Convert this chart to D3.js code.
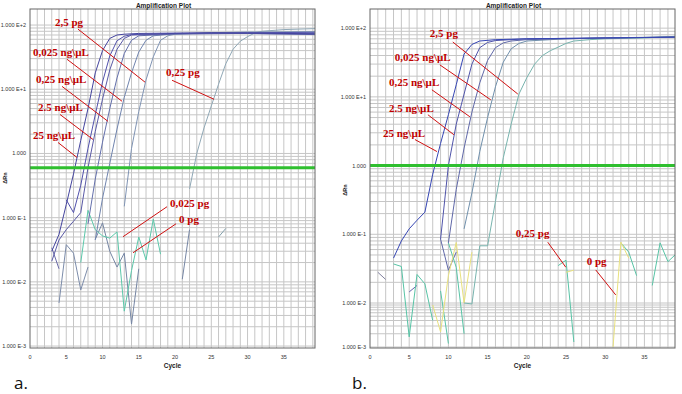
<!DOCTYPE html>
<html>
<head>
<meta charset="utf-8">
<script src="https://cdn.jsdelivr.net/npm/d3@7"></script>
<style>
  body { margin: 0; background: #fff; }
  svg { display: block; }
</style>
</head>
<body>
<div id="container"></div>
<script>
// ---------- panel a : [cycle, deltaRn] ----------
const a_25ng     = [[3,0.03],[4,0.055],[5,0.16],[6,0.48],[7,1.6],[8,5],[9,18],[10,40],[11,62],[12,70],[13,72],[15,74],[20,75],[25,76],[30,75],[35,74],[39.3,73]];
const a_rep      = [[5,0.19],[6,0.12],[7,0.32],[8,1.2],[9,4],[10,13],[11,33],[12,57],[13,67],[14,71],[20,74],[30,76],[39.3,77]];
const a_2_5ng    = [[3,0.021],[4,0.045],[5,0.065],[6,0.088],[7,0.12],[8,0.6],[9,2.2],[10,7],[11,20],[12,42],[13,62],[14,70],[20,73],[30,74],[39.3,72]];
const a_0_25ng   = [[8,0.08],[9,0.4],[10,1.5],[11,5],[12,15],[13,36],[14,58],[15,68],[20,73],[30,74],[39.3,71]];
const a_0_025ng  = [[9,0.045],[10,0.2],[11,0.7],[12,2.4],[13,7.5],[14,18],[15,38],[16,58],[17,68],[20,73],[30,75],[39.3,74]];
const a_2_5pg    = [[13,0.15],[14,1.2],[15,4.5],[16,14],[17,32],[18,58],[19,68],[20,72],[25,76],[30,78],[39.3,79]];
const a_0_25pg   = [[22,0.28],[23,1.0],[24,2.5],[25,5.5],[26,12],[27,25],[28,42],[29,56],[30,66],[31,75],[32,80],[35,85],[39.3,88]];
const a_0_025pg  = [[7,0.02],[8,0.13],[9,0.065],[10,0.052],[11,0.048],[12,0.06],[13,0.0035],[14,0.015],[15,0.05],[16,0.022],[17,0.095],[18,0.027]];
const a_0pg      = [[9,0.046],[10,0.083],[11,0.03],[12,0.017],[13,0.028],[14,0.0022],[15,0.016]];
const a_n1       = [[3,0.034],[4,0.016]];
const a_n2       = [[4,0.0047],[5,0.038],[6,0.028],[7,0.0075],[8,0.017]];
const a_n3       = [[21,0.011],[22,0.065]];
const a_n4       = [[26,0.05],[27,0.068]];

// ---------- panel b ----------
const b_25ng     = [[3,0.045],[4,0.08],[5,0.12],[6,0.16],[7,0.21],[8,0.75],[9,2.1],[10,5.5],[11,15],[12,42],[13,58],[14,65],[16,68],[20,70],[25,71],[30,72],[38.9,74]];
const b_2_5ng    = [[9,0.085],[10,1.0],[11,4],[12,11],[13,30],[14,52],[15,62],[16,66],[20,70],[30,72],[38.9,74]];
const b_0_25ng   = [[10,0.075],[11,0.45],[12,1.8],[13,6],[14,16],[15,34],[16,52],[17,61],[18,65],[20,68],[30,72],[38.9,74]];
const b_0_025ng  = [[12,0.12],[13,0.4],[14,1.6],[15,5],[16,14],[17,32],[18,50],[19,60],[20,65],[25,70],[30,72],[38.9,75]];
const b_2_5pg    = [[12,0.01],[13,0.0095],[14,0.068],[15,0.068],[16,0.3],[17,1.3],[18,4],[19,11],[20,19],[21,30],[22,40],[23,47],[24,53],[25,60],[26,65],[28,68],[30,70],[35,72],[38.9,76]];
const b_t1       = [[3,0.037],[4,0.034],[5,0.0017],[6,0.026],[7,0.019],[8,0.004]];
const b_t2       = [[9,0.015],[10,0.0012]];
const b_t3       = [[10,0.075],[11,0.033],[12,0.002]];
const b_0_25pg   = [[24,0.035],[25,0.042],[26,0.0013]];
const b_t5       = [[32,0.075],[33,0.055],[34,0.025]];
const b_t6       = [[36,0.018],[37,0.075],[38,0.04],[38.9,0.05]];
const b_y1       = [[8,0.009],[9,0.0022],[10,0.025],[11,0.076],[12,0.01],[13,0.055]];
const b_0pg      = [[31,0.001],[32,0.077],[33,0.045]];
const b_y3       = [[25,0.028],[26,0.03]];
const b_g1       = [[1,0.028],[2,0.022]];
const b_g2       = [[5,0.0145],[6,0.018]];
const b_g3       = [[9,0.085],[10,0.03],[11,0.055]];

const yTickValues = [100, 10, 1, 0.1, 0.01, 0.001];
const yTickLabels = ["1.000 E+2", "1.000 E+1", "1.000", "1.000 E-1", "1.000 E-2", "1.000 E-3"];
const xTickValues = [0, 5, 10, 15, 20, 25, 30, 35];
const threshA = 0.6, threshB = 1.0;

// annotation texts with tip [cycle, value]
const annA = [
  {text: "2,5 pg",       tip: [15.86, 12.9],  tx: -90, ty: -56, lx: -67, ly: -53},
  {text: "0,025 ng\\µL", tip: [12.69, 6.5],   tx: -89, ty: -45, lx: -55, ly: -42},
  {text: "0,25 ng\\µL",  tip: [10.76, 3.16],  tx: -72, ty: -38, lx: -46, ly: -35},
  {text: "2.5 ng\\µL",   tip: [8.69, 1.65],   tx: -55, ty: -28, lx: -33, ly: -25},
  {text: "25 ng\\µL",    tip: [6.48, 0.866],  tx: -44, ty: -18, lx: -19, ly: -15},
  {text: "0,25 pg",      tip: [25.38, 6.98],  tx: -48, ty: -23, lx: -42, ly: -19},
  {text: "0,025 pg",     tip: [12.83, 0.0505],tx: 47,  ty: -30, lx: 44,  ly: -30},
  {text: "0 pg",         tip: [14.21, 0.0284],tx: 46,  ty: -30, lx: 43,  ly: -29}
];
const annB = [
  {text: "2,5 pg",       tip: [18.85, 11.0],  tx: -88, ty: -57, lx: -65, ly: -52},
  {text: "0,025 ng\\µL", tip: [15.41, 9.05],  tx: -96, ty: -39, lx: -51, ly: -35},
  {text: "0,25 ng\\µL",  tip: [12.74, 5.13],  tx: -81, ty: -31, lx: -38, ly: -27},
  {text: "2.5 ng\\µL",   tip: [10.70, 2.81],  tx: -65, ty: -23, lx: -26, ly: -20},
  {text: "25 ng\\µL",    tip: [8.54, 1.6],    tx: -54, ty: -15, lx: -22, ly: -12},
  {text: "0,25 pg",      tip: [24.97, 0.0332],tx: -50, ty: -30, lx: -18, ly: -25},
  {text: "0 pg",         tip: [31.34, 0.0131],tx: -29, ty: -30, lx: -20, ly: -25}
];

const seriesA = [a_n1, a_n2, a_n3, a_n4, a_0pg, a_0_025pg, a_0_25pg, a_2_5pg, a_0_025ng, a_0_25ng, a_2_5ng, a_rep, a_25ng];
const colorsA = ["#6a6aa8", "#7c8caa", "#7686a4", "#84a0ac", "#7686a4", "#5cc8aa", "#90a8b6", "#8094b4", "#7084ae", "#6470ac", "#5a5aa6", "#5252ac", "#44449e"];
const seriesB = [b_g1, b_g2, b_g3, b_t1, b_t2, b_t3, b_0_25pg, b_t5, b_t6, b_y1, b_0pg, b_y3, b_2_5pg, b_0_025ng, b_0_25ng, b_2_5ng, b_25ng];
const colorsB = ["#80809e", "#6464ac", "#6068a8", "#58c4a6", "#58c4a6", "#58c4a6", "#58c4a6", "#58c4a6", "#58c4a6", "#e8e17e", "#e8e17e", "#e8e17e", "#78b4ae", "#7090ac", "#6068a8", "#5054aa", "#3646b4"];

const svg = d3.select('#container')
  .append('svg')
  .attr('width', 682)
  .attr('height', 394);

function drawPanel(p) {
  const x = d3.scaleLinear().domain([0, p.xMax]).range([p.left, p.right]);
  const y = d3.scaleLog().domain(p.yDomain).range(p.yRange);
  const g = svg.append('g');

  g.append('clipPath').attr('id', 'clip' + p.id)
    .append('rect')
    .attr('x', p.left).attr('y', p.top)
    .attr('width', p.right - p.left).attr('height', p.bottom - p.top);

  // grid
  const vgrid = d3.range(1, Math.floor(p.xMax) + 1);
  g.selectAll('.vg').data(vgrid).join('line')
    .attr('x1', d => x(d)).attr('x2', d => x(d))
    .attr('y1', p.top).attr('y2', p.bottom)
    .attr('stroke', '#c6c6c6').attr('stroke-width', 1);
  const hgrid = [];
  [-3, -2, -1, 0, 1, 2].forEach(n => {
    for (let k = 1; k <= 9; k++) {
      const v = k * Math.pow(10, n);
      if (v >= p.yDomain[0] && v <= p.yDomain[p.yDomain.length - 1]) hgrid.push(v);
    }
  });
  g.selectAll('.hg').data(hgrid).join('line')
    .attr('x1', p.left).attr('x2', p.right)
    .attr('y1', d => y(d)).attr('y2', d => y(d))
    .attr('stroke', '#c6c6c6').attr('stroke-width', 1);

  // curves
  const line = d3.line().x(d => x(d[0])).y(d => y(d[1]));
  g.append('g').attr('clip-path', 'url(#clip' + p.id + ')')
    .selectAll('path').data(p.series).join('path')
    .attr('d', line)
    .attr('fill', 'none')
    .attr('stroke', (d, i) => p.colors[i])
    .attr('stroke-width', 1);

  // threshold
  g.append('line')
    .attr('x1', p.left).attr('x2', p.right)
    .attr('y1', y(p.thresh)).attr('y2', y(p.thresh))
    .attr('stroke', '#2fbf2f').attr('stroke-width', 3);

  // frame
  g.append('rect')
    .attr('x', p.left).attr('y', p.top)
    .attr('width', p.right - p.left).attr('height', p.bottom - p.top)
    .attr('fill', 'none').attr('stroke', '#666').attr('stroke-width', 1);

  // y tick labels
  g.selectAll('.yl').data(yTickValues).join('text')
    .attr('x', p.left - 4).attr('y', d => y(d) + 2)
    .attr('text-anchor', 'end')
    .attr('font-family', 'Liberation Sans, Arial, sans-serif')
    .attr('font-size', 5.5).attr('fill', '#333')
    .text((d, i) => yTickLabels[i]);

  // x tick labels
  g.selectAll('.xl').data(xTickValues).join('text')
    .attr('x', d => x(d)).attr('y', p.bottom + 11)
    .attr('text-anchor', 'middle')
    .attr('font-family', 'Liberation Sans, Arial, sans-serif')
    .attr('font-size', 5.5).attr('fill', '#333')
    .text(d => d);

  g.append('text')
    .attr('x', (p.left + p.right) / 2).attr('y', p.bottom + 20)
    .attr('text-anchor', 'middle')
    .attr('font-family', 'Liberation Sans, Arial, sans-serif')
    .attr('font-size', 6.5).attr('font-weight', 'bold').attr('fill', '#222')
    .text('Cycle');

  g.append('text')
    .attr('x', (p.left + p.right) / 2 - 9).attr('y', 8)
    .attr('text-anchor', 'middle')
    .attr('font-family', 'Liberation Sans, Arial, sans-serif')
    .attr('font-size', 6.5).attr('font-weight', 'bold').attr('fill', '#222')
    .text('Amplification Plot');

  g.append('text')
    .attr('transform', 'translate(' + (p.left - 23) + ',' + p.yLabel + ') rotate(-90)')
    .attr('text-anchor', 'middle')
    .attr('font-family', 'Liberation Sans, Arial, sans-serif')
    .attr('font-size', 5.5).attr('font-weight', 'bold').attr('fill', '#222')
    .text('ΔRn');

  // annotations
  p.ann.forEach(a => {
    const px = x(a.tip[0]), py = y(a.tip[1]);
    g.append('line')
      .attr('x1', px + a.lx).attr('y1', py + a.ly)
      .attr('x2', px).attr('y2', py)
      .attr('stroke', '#d01010').attr('stroke-width', 1);
    g.append('text')
      .attr('x', px + a.tx).attr('y', py + a.ty)
      .attr('font-family', 'Liberation Serif, Times New Roman, serif')
      .attr('font-size', 11).attr('font-weight', 'bold').attr('fill', '#c00000')
      .text(a.text);
  });

  g.append('text')
    .attr('x', p.tagX).attr('y', 389)
    .attr('font-family', 'Open Sans, Liberation Sans, sans-serif')
    .attr('font-size', 17).attr('fill', '#111')
    .text(p.tag);
}

drawPanel({id: 'a', left: 30, right: 315, top: 9, bottom: 348, xMax: 39.3,
  yDomain: [Math.pow(10, -3.03), Math.pow(10, 2.25)], yRange: [348, 9],
  series: seriesA, colors: colorsA, thresh: threshA, ann: annA, yLabel: 178, tag: 'a.', tagX: 14});

drawPanel({id: 'b', left: 370, right: 675, top: 9, bottom: 348, xMax: 38.9,
  yDomain: [0.00095, 0.001, 0.01, 190], yRange: [348, 347, 303, 9],
  series: seriesB, colors: colorsB, thresh: threshB, ann: annB, yLabel: 190, tag: 'b.', tagX: 352});
</script>
</body>
</html>
